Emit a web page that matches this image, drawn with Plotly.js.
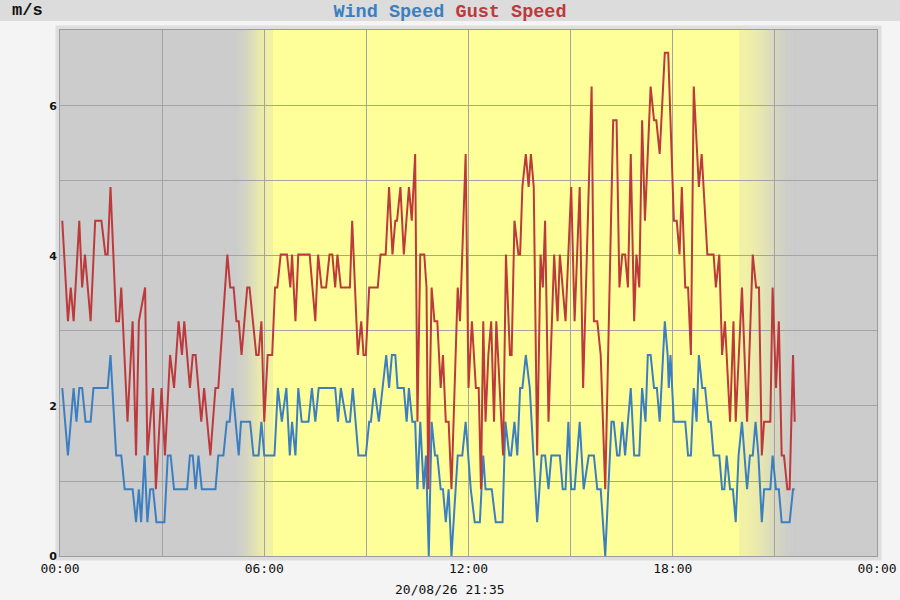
<!DOCTYPE html>
<html>
<head>
<meta charset="utf-8">
<script src="https://cdn.plot.ly/plotly-3.0.1.min.js"></script>
<style>
  html, body { margin: 0; padding: 0; background: #f4f4f4; }
  #chart { width: 900px; height: 600px; }
</style>
</head>
<body>
<div id="chart"></div>
<script>
// ---- data ----
const day = "2026-08-20";
const dateLabel = "20/08/26 21:35";
const unitLabel = "m/s";
const seriesNames = ["Wind Speed", "Gust Speed"];
const xTickText = ["00:00", "06:00", "12:00", "18:00", "00:00"];

const windTime = ["00:04","00:14","00:24","00:29","00:34","00:39","00:45","00:54","00:59","01:24",
  "01:29","01:39","01:48","01:54","02:08","02:14","02:19","02:23","02:29","02:34",
  "02:39","02:44","02:50","03:04","03:10","03:15","03:21","03:44","03:49","03:54",
  "03:59","04:04","04:10","04:34","04:39","04:48","04:54","04:59","05:04","05:15",
  "05:19","05:35","05:41","05:50","05:55","06:00","06:18","06:24","06:31","06:39",
  "06:45","06:49","06:55","07:00","07:06","07:18","07:24","07:30","07:36","08:05",
  "08:10","08:15","08:25","08:31","08:36","08:46","08:59","09:05","09:08","09:14",
  "09:22","09:35","09:40","09:45","09:51","09:55","10:06","10:11","10:15","10:21",
  "10:26","10:30","10:35","10:41","10:45","10:50","10:55","11:01","11:05","11:11",
  "11:15","11:20","11:25","11:30","11:41","11:49","11:55","12:04","12:11","12:20",
  "12:26","12:30","12:41","12:48","13:00","13:05","13:12","13:15","13:21","13:26",
  "13:31","13:35","13:41","13:48","14:01","14:09","14:15","14:21","14:26","14:41",
  "14:46","14:51","14:56","15:01","15:07","15:16","15:23","15:32","15:41","15:47",
  "15:53","16:01","16:12","16:16","16:22","16:26","16:31","16:36","16:46","16:52",
  "17:01","17:06","17:12","17:16","17:21","17:27","17:32","17:37","17:46","17:51",
  "17:53","17:56","18:02","18:22","18:27","18:32","18:37","18:42","18:46","18:52",
  "18:57","19:03","19:07","19:12","19:22","19:27","19:31","19:35","19:41","19:46",
  "19:51","19:56","20:02","20:06","20:11","20:16","20:21","20:26","20:31","20:37",
  "20:41","20:52","20:56","21:02","21:07","21:12","21:26","21:32","21:35"];
const windSpeed = [2.24,1.34,2.24,1.79,2.24,2.24,1.79,1.79,2.24,2.24,
  2.68,1.34,1.34,0.89,0.89,0.45,0.89,0.45,1.34,0.45,
  0.89,0.89,0.45,0.45,1.34,1.34,0.89,0.89,1.34,1.34,
  0.89,1.34,0.89,0.89,1.34,1.34,1.79,1.79,2.24,1.34,
  1.79,1.79,1.34,1.34,1.79,1.34,1.34,2.24,1.79,2.24,
  1.34,1.79,1.34,2.24,1.79,1.79,2.24,1.79,2.24,2.24,
  1.79,2.24,1.79,1.79,2.24,1.34,1.34,1.79,1.79,2.24,
  1.79,2.68,2.24,2.68,2.68,2.24,2.24,1.79,2.24,1.79,
  1.79,0.89,1.79,0.89,1.34,0,1.79,1.34,1.34,0.89,
  0.89,0.45,0.89,0,1.34,1.34,1.79,0.89,0.45,0.45,
  1.34,0.89,0.89,0.45,0.45,1.79,1.34,1.34,1.79,1.34,
  2.24,2.24,2.68,2.24,0.45,1.34,1.34,0.89,1.34,1.34,
  0.89,0.89,1.79,0.89,0.89,1.79,0.89,1.34,1.34,0.89,
  0.89,0,1.79,1.79,1.34,1.34,1.79,1.34,2.24,1.34,
  1.34,2.24,1.79,2.68,2.68,2.24,2.24,1.79,3.13,2.68,
  2.24,2.68,1.79,1.79,1.34,1.34,2.24,1.79,2.68,2.24,
  2.24,1.79,1.79,1.34,1.34,0.89,0.89,1.34,0.89,0.89,
  0.45,1.34,1.79,1.34,0.89,1.34,1.34,1.79,1.34,0.45,
  0.89,0.89,1.34,0.89,0.89,0.45,0.45,0.89,0.89];

const gustTime = ["00:04","00:14","00:19","00:24","00:34","00:39","00:44","00:54","01:02","01:13",
  "01:20","01:24","01:29","01:39","01:44","01:48","01:59","02:08","02:14","02:19",
  "02:30","02:34","02:44","02:49","02:59","03:05","03:14","03:21","03:29","03:35",
  "03:39","03:49","03:54","03:59","04:09","04:14","04:25","04:34","04:39","04:55",
  "05:00","05:06","05:11","05:15","05:20","05:30","05:34","05:46","05:50","05:55",
  "06:00","06:06","06:14","06:19","06:23","06:29","06:40","06:46","06:49","06:55",
  "07:00","07:20","07:30","07:35","07:41","07:49","07:55","08:00","08:05","08:09",
  "08:15","08:31","08:35","08:45","08:51","08:55","08:59","09:05","09:20","09:25",
  "09:34","09:40","09:46","09:51","09:54","10:00","10:06","10:15","10:20","10:26",
  "10:30","10:35","10:42","10:46","10:49","10:55","11:00","11:05","11:11","11:15",
  "11:20","11:25","11:30","11:41","11:45","11:55","12:00","12:06","12:13","12:18",
  "12:22","12:26","12:30","12:35","12:40","12:45","12:49","12:55","13:01","13:06",
  "13:13","13:16","13:21","13:28","13:31","13:35","13:41","13:46","13:50","13:55",
  "14:01","14:07","14:11","14:15","14:21","14:31","14:37","14:41","14:46","14:51",
  "15:01","15:07","15:16","15:22","15:37","15:41","15:47","15:53","16:01","16:15",
  "16:21","16:26","16:31","16:36","16:41","16:46","16:52","16:56","17:01","17:06",
  "17:11","17:21","17:27","17:31","17:37","17:46","17:52","18:02","18:07","18:12",
  "18:16","18:22","18:27","18:32","18:37","18:46","18:51","19:01","19:12","19:16",
  "19:22","19:27","19:32","19:41","19:47","19:51","20:02","20:11","20:21","20:27",
  "20:32","20:37","20:41","20:52","20:56","21:02","21:07","21:12","21:16","21:22",
  "21:26","21:32","21:35"];
const gustSpeed = [4.47,3.13,3.58,3.13,4.47,3.58,4.02,3.13,4.47,4.47,
  4.02,4.02,4.92,3.13,3.13,3.58,1.79,3.13,1.34,3.13,
  3.58,1.34,2.24,0.89,2.24,1.34,2.68,2.24,3.13,2.68,
  3.13,2.24,2.68,2.68,1.79,2.24,1.34,2.24,2.24,4.02,
  3.58,3.58,3.13,3.13,2.68,3.58,3.58,2.68,2.68,3.13,
  1.79,2.68,2.68,3.58,3.58,4.02,4.02,3.58,4.02,3.13,
  4.02,4.02,3.13,4.02,3.58,3.58,4.02,4.02,3.58,4.02,
  3.58,3.58,4.47,2.68,3.13,2.68,2.68,3.58,3.58,4.02,
  4.02,4.92,4.02,4.47,4.47,4.92,4.02,4.92,4.47,5.36,
  1.79,4.02,4.02,3.58,0.89,3.58,3.13,3.13,2.24,2.68,
  1.79,1.79,0.89,3.58,3.13,5.36,2.24,3.13,2.24,2.24,
  0.89,3.13,1.79,2.68,3.13,1.79,3.13,2.24,1.34,4.02,
  2.68,2.68,4.47,4.02,4.02,4.92,5.36,4.92,5.36,4.92,
  1.34,4.02,3.58,4.47,1.79,4.02,3.13,4.02,3.58,3.13,
  4.92,3.13,4.92,2.24,6.26,3.13,3.13,2.68,0.89,5.81,
  5.81,3.58,4.02,4.02,3.58,5.36,3.13,4.02,3.58,5.81,
  4.47,6.26,5.81,5.81,5.36,6.71,6.71,4.47,4.47,4.02,
  4.92,3.58,3.58,2.68,6.26,4.92,5.36,4.02,4.02,3.58,
  4.02,2.68,3.13,1.79,3.13,1.79,3.58,1.79,4.02,3.58,
  3.58,1.34,1.79,1.79,3.58,2.24,3.13,1.34,1.34,0.89,
  0.89,2.68,1.79];

// daylight band (sunrise / sunset twilight)
const dawnStart = "05:05", dawnEnd = "06:15";
const duskStart = "19:58", duskEnd = "21:38";

// ---- styling ----
const blue = "#3b7fc0";
const red = "#bc3a3c";
const nightRGB = [204, 204, 204];
const dayRGB = [255, 255, 153];
const gridColor = "#a3a3a8";
const yMax = 7.013;

const toX = t => day + " " + t;
const toMin = t => { const p = t.split(":"); return (+p[0]) * 60 + (+p[1]); };
const fromMin = m => {
  const h = Math.floor(m / 60), mm = Math.round(m - h * 60);
  return day + " " + String(h).padStart(2, "0") + ":" + String(mm).padStart(2, "0") + ":00";
};
const mix = (a, b, t) => "rgb(" + a.map((v, i) => Math.round(v + (b[i] - v) * t)).join(",") + ")";

const shapes = [];
// header band
shapes.push({type: "rect", xref: "paper", yref: "paper", x0: -0.08, x1: 1.04,
  y0: (556 - 21) / 526, y1: 1.07, fillcolor: "#dcdcdc", line: {width: 0}, layer: "below"});
// outer frame
shapes.push({type: "rect", xref: "paper", yref: "paper", x0: -2.5 / 817, x1: 1 + 2.5 / 817,
  y0: -2.5 / 526, y1: 1 + 2.5 / 526, fillcolor: "rgba(0,0,0,0)", line: {color: "#dedede", width: 4}, layer: "below"});
// full day
shapes.push({type: "rect", xref: "x", yref: "y", x0: toX(dawnEnd), x1: toX(duskStart), y0: 0, y1: yMax,
  fillcolor: mix(nightRGB, dayRGB, 1), line: {width: 0}, layer: "below"});
function gradient(t0, t1, fromRGB, toRGB) {
  const m0 = toMin(t0), m1 = toMin(t1), n = Math.round(m1 - m0);
  for (let i = 0; i < n; i++) {
    // smooth-step easing for a soft twilight edge
    const u = (i + 0.5) / n, s = u * u * (3 - 2 * u);
    shapes.push({type: "rect", xref: "x", yref: "y", x0: fromMin(m0 + i), x1: fromMin(m0 + i + 1),
      y0: 0, y1: yMax, fillcolor: mix(fromRGB, toRGB, s), line: {width: 0}, layer: "below"});
  }
}
gradient(dawnStart, dawnEnd, nightRGB, dayRGB);
gradient(duskStart, duskEnd, dayRGB, nightRGB);

const traces = [
  {x: windTime.map(toX), y: windSpeed, name: seriesNames[0], type: "scatter", mode: "lines",
   line: {color: blue, width: 2}, hoverinfo: "skip"},
  {x: gustTime.map(toX), y: gustSpeed, name: seriesNames[1], type: "scatter", mode: "lines",
   line: {color: red, width: 2}, hoverinfo: "skip"}
];

const layout = {
  width: 900, height: 600,
  paper_bgcolor: "#f4f4f4",
  plot_bgcolor: "#cccccc",
  margin: {l: 60, r: 23, t: 30, b: 44},
  showlegend: false,
  title: {
    text: "<b><span style='color:" + blue + "'>" + seriesNames[0] + "</span> <span style='color:" + red + "'>" + seriesNames[1] + "</span></b>",
    font: {family: "Liberation Mono, Courier New, monospace", size: 18.5},
    x: 0.5, xanchor: "center", xref: "container",
    y: 1 - 10.5 / 600, yanchor: "middle", yref: "container"
  },
  xaxis: {
    type: "date",
    range: [day + " 00:00", "2026-08-21 00:00"],
    tickvals: ["2026-08-20 00:00", "2026-08-20 06:00", "2026-08-20 12:00", "2026-08-20 18:00", "2026-08-21 00:00"],
    ticktext: xTickText,
    showgrid: true, gridcolor: gridColor, gridwidth: 1,
    minor: {dtick: 3 * 3600000, tick0: day + " 00:00", showgrid: true, gridcolor: gridColor, gridwidth: 1},
    ticks: "", zeroline: false,
    showline: true, mirror: true, linecolor: "#9c9c9c", linewidth: 1,
    tickfont: {family: "DejaVu Sans Mono, monospace", size: 13, color: "#111"},
    fixedrange: true
  },
  yaxis: {
    range: [0, yMax],
    dtick: 2, tick0: 0,
    showgrid: true, gridcolor: gridColor, gridwidth: 1,
    minor: {dtick: 1, showgrid: true, gridcolor: gridColor, gridwidth: 1},
    ticks: "", zeroline: false,
    showline: true, mirror: true, linecolor: "#9c9c9c", linewidth: 1,
    tickfont: {family: "DejaVu Sans, sans-serif", size: 11, color: "#111", weight: "bold"},
    fixedrange: true
  },
  shapes: shapes,
  annotations: [
    {text: "<b>" + unitLabel + "</b>", xref: "paper", yref: "paper",
     x: (10 - 60) / 817, xanchor: "left", y: (556 - 10.5) / 526, yanchor: "middle", showarrow: false,
     font: {family: "Liberation Mono, Courier New, monospace", size: 17, color: "#111"}},
    {text: dateLabel, xref: "paper", yref: "paper",
     x: (450 - 60) / 817, xanchor: "center", y: (556 - 589) / 526, yanchor: "middle", showarrow: false,
     font: {family: "DejaVu Sans Mono, monospace", size: 13, color: "#111"}}
  ]
};

Plotly.newPlot("chart", traces, layout, {displayModeBar: false, staticPlot: true});
</script>
</body>
</html>
